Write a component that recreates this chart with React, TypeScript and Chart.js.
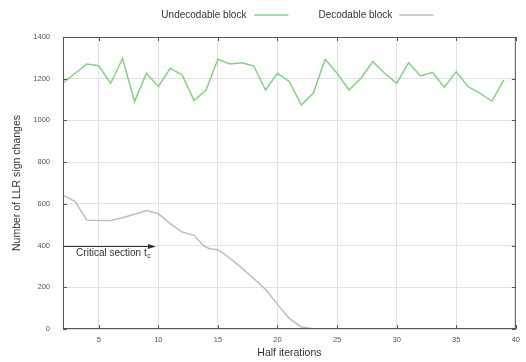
import React, { useEffect, useRef } from 'react';
import { Chart, registerables } from 'chart.js';

Chart.register(...registerables);

// ---- data ----
const halfIterations = [2, 3, 4, 5, 6, 7, 8, 9, 10, 11, 12, 13, 14, 15, 16, 17, 18, 19, 20, 21, 22, 23, 24, 25, 26, 27, 28, 29, 30, 31, 32, 33, 34, 35, 36, 37, 38, 39];
const undecodable = [1180, 1225, 1270, 1262, 1178, 1298, 1090, 1226, 1162, 1250, 1218, 1095, 1146, 1293, 1271, 1277, 1262, 1146, 1226, 1186, 1074, 1130, 1293, 1226, 1146, 1202, 1282, 1226, 1178, 1277, 1213, 1231, 1159, 1234, 1162, 1130, 1093, 1194];
const decodableX = [2, 3, 4, 5, 6, 7, 8, 9, 10, 11, 12, 13, 13.8, 14.3, 15, 16, 17, 18, 19, 20, 21, 22, 23, 24];
const decodable = [642, 612, 522, 520, 520, 533, 550, 568, 553, 505, 465, 449, 398, 385, 380, 340, 293, 242, 190, 118, 50, 10, 1, 0];
const xTicks = [5, 10, 15, 20, 25, 30, 35, 40];
const yTicks = [0, 200, 400, 600, 800, 1000, 1200, 1400];
const seriesLabels = ['Undecodable block', 'Decodable block'];
const seriesColors = ['#82d282', '#bdbdbd'];
const criticalLabel = 'Critical section t';
const criticalSub = 'c';
const criticalStart = 2;
const criticalEnd = 9.8;
const criticalLevel = 400;

const FONT = '"Liberation Sans", Arial, Helvetica, sans-serif';

const decor = {
  id: 'decor',
  afterDraw(chart: any) {
    const { ctx, chartArea: a, scales } = chart;
    const xs = scales.x;
    const ys = scales.y;
    ctx.save();
    // inward tick marks
    ctx.strokeStyle = '#555';
    ctx.lineWidth = 1;
    ctx.beginPath();
    xTicks.forEach((v) => {
      const px = Math.round(xs.getPixelForValue(v)) + 0.5;
      ctx.moveTo(px, a.bottom);
      ctx.lineTo(px, a.bottom - 4);
      ctx.moveTo(px, a.top);
      ctx.lineTo(px, a.top + 4);
    });
    yTicks.forEach((v) => {
      const py = Math.round(ys.getPixelForValue(v)) + 0.5;
      ctx.moveTo(a.left, py);
      ctx.lineTo(a.left + 4, py);
      ctx.moveTo(a.right, py);
      ctx.lineTo(a.right - 4, py);
    });
    ctx.stroke();
    // border
    ctx.strokeStyle = '#555';
    ctx.strokeRect(a.left + 0.5, a.top + 0.5, a.right - a.left - 1, a.bottom - a.top - 1);

    // critical section arrow
    const ay = Math.round(ys.getPixelForValue(criticalLevel)) + 0.5;
    const ax0 = xs.getPixelForValue(criticalStart);
    const ax1 = xs.getPixelForValue(criticalEnd);
    ctx.strokeStyle = '#333';
    ctx.lineWidth = 1;
    ctx.beginPath();
    ctx.moveTo(ax0, ay);
    ctx.lineTo(ax1 - 6, ay);
    ctx.stroke();
    ctx.fillStyle = '#333';
    ctx.beginPath();
    ctx.moveTo(ax1, ay);
    ctx.lineTo(ax1 - 8, ay - 2.5);
    ctx.lineTo(ax1 - 8, ay + 2.5);
    ctx.closePath();
    ctx.fill();

    // critical section text
    ctx.font = `10px ${FONT}`;
    ctx.fillStyle = '#333';
    ctx.textBaseline = 'middle';
    ctx.textAlign = 'left';
    const tx = xs.getPixelForValue(3.1);
    const ty = ys.getPixelForValue(362);
    ctx.fillText(criticalLabel, tx, ty);
    const w = ctx.measureText(criticalLabel).width;
    ctx.font = `7px ${FONT}`;
    ctx.fillText(criticalSub, tx + w + 0.5, ty + 3);

    // legend (text then line sample)
    const cx = (a.left + a.right) / 2;
    ctx.font = `10px ${FONT}`;
    ctx.fillStyle = '#333';
    ctx.textBaseline = 'middle';
    const ly = 15;
    const s1End = cx - 1;
    const s1Start = s1End - 34;
    ctx.textAlign = 'right';
    ctx.fillText(seriesLabels[0], s1Start - 8, ly);
    ctx.strokeStyle = seriesColors[0];
    ctx.lineWidth = 1.5;
    ctx.beginPath();
    ctx.moveTo(s1Start, ly);
    ctx.lineTo(s1End, ly);
    ctx.stroke();
    const t2 = cx + 29;
    ctx.textAlign = 'left';
    ctx.fillText(seriesLabels[1], t2, ly);
    const w2 = ctx.measureText(seriesLabels[1]).width;
    ctx.strokeStyle = seriesColors[1];
    ctx.beginPath();
    ctx.moveTo(t2 + w2 + 7, ly);
    ctx.lineTo(t2 + w2 + 41, ly);
    ctx.stroke();
    ctx.restore();
  },
};

export default function App() {
  const ref = useRef<HTMLCanvasElement | null>(null);

  useEffect(() => {
    if (!ref.current) return;
    const chart = new Chart(ref.current, {
      type: 'line',
      data: {
        datasets: [
          {
            label: seriesLabels[0],
            data: halfIterations.map((x, i) => ({ x, y: undecodable[i] })),
            borderColor: seriesColors[0],
            borderWidth: 1.5,
            pointRadius: 0,
            tension: 0,
            fill: false,
          },
          {
            label: seriesLabels[1],
            data: decodableX.map((x, i) => ({ x, y: decodable[i] })),
            borderColor: seriesColors[1],
            borderWidth: 1.5,
            pointRadius: 0,
            tension: 0,
            fill: false,
          },
        ],
      },
      options: {
        responsive: false,
        animation: false,
        layout: { padding: { top: 37, right: 7, left: 0, bottom: 0 } },
        plugins: {
          legend: { display: false },
          tooltip: { enabled: false },
        },
        scales: {
          x: {
            type: 'linear',
            min: 2,
            max: 40,
            afterBuildTicks: (s: any) => {
              s.ticks = xTicks.map((v) => ({ value: v }));
            },
            afterFit: (s: any) => {
              s.height = 33;
            },
            grid: { color: '#e2e2e2', drawTicks: false },
            border: { display: false },
            ticks: {
              padding: 6,
              color: '#555',
              font: { family: FONT, size: 7.5 },
              maxRotation: 0,
              autoSkip: false,
              callback: (v: any) => String(v),
            },
            title: {
              display: true,
              text: 'Half iterations',
              color: '#333',
              font: { family: FONT, size: 10.5 },
              padding: { top: 0, bottom: 3 },
            },
          },
          y: {
            type: 'linear',
            min: 0,
            max: 1400,
            afterBuildTicks: (s: any) => {
              s.ticks = yTicks.map((v) => ({ value: v }));
            },
            afterFit: (s: any) => {
              s.width = 63;
            },
            grid: { color: '#e2e2e2', drawTicks: false },
            border: { display: false },
            ticks: {
              padding: 13,
              color: '#555',
              font: { family: FONT, size: 7.5 },
              autoSkip: false,
              callback: (v: any) => String(v),
            },
            title: {
              display: true,
              text: 'Number of LLR sign changes',
              color: '#333',
              font: { family: FONT, size: 10.5 },
              padding: { top: 11, bottom: 0 },
            },
          },
        },
      },
      plugins: [decor],
    });
    return () => chart.destroy();
  }, []);

  return (
    <div style={{ position: 'fixed', left: 0, top: 0, width: 526, height: 362, background: '#fff' }}>
      <canvas ref={ref} width={526} height={362} style={{ display: 'block' }} />
    </div>
  );
}
